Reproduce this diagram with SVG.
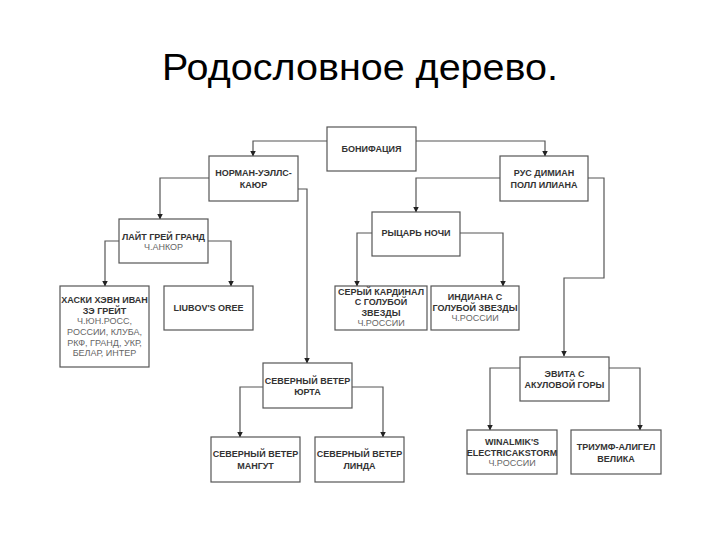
<svg xmlns="http://www.w3.org/2000/svg" width="720" height="540" viewBox="0 0 720 540">
<defs>
<marker id="arr" markerWidth="6" markerHeight="6" refX="5.5" refY="3" orient="auto" markerUnits="userSpaceOnUse">
<path d="M0,0 L6,3 L0,6 Z" fill="#222"/>
</marker>
<style>
.box{fill:#fff;stroke:#555;stroke-width:1.2}
.t{font-family:"Liberation Sans",Arial,sans-serif;font-size:9px;font-weight:bold;fill:#333;text-anchor:middle}
.s{font-family:"Liberation Sans",Arial,sans-serif;font-size:9px;fill:#666;text-anchor:middle}
.c{fill:none;stroke:#555;stroke-width:1.2;marker-end:url(#arr)}
.title{font-family:"Liberation Sans",Arial,sans-serif;font-size:36px;fill:#000;text-anchor:middle}
</style>
</defs>
<rect width="720" height="540" fill="#fff"/>
<text class="title" x="360" y="80" textLength="396" lengthAdjust="spacingAndGlyphs">Родословное дерево.</text>
<g id="connectors">
<path class="c" d="M327,141 H253 V156"/>
<path class="c" d="M416,141 H545 V156"/>
<path class="c" d="M209,178 H160 V219"/>
<path class="c" d="M298,189 H307 V363"/>
<path class="c" d="M119,241 H105 V286"/>
<path class="c" d="M208,241 H231 V286"/>
<path class="c" d="M500,178 H416 V212"/>
<path class="c" d="M588,178 H604 V278 H564 V356"/>
<path class="c" d="M372,233 H357 V286"/>
<path class="c" d="M460,233 H503 V286"/>
<path class="c" d="M263,387 H240 V437"/>
<path class="c" d="M352,387 H383 V437"/>
<path class="c" d="M520,368 H490 V430"/>
<path class="c" d="M609,368 H640 V430"/>
</g>
<g id="n-bonifacia"><rect class="box" x="327" y="127" width="89" height="44"/><text class="t" x="371.5" y="152">БОНИФАЦИЯ</text></g>
<g id="n-norman"><rect class="box" x="209" y="156" width="89" height="45"/><text class="t" x="253.5" y="176">НОРМАН-УЭЛЛС-</text><text class="t" x="253.5" y="188">КАЮР</text></g>
<g id="n-rus"><rect class="box" x="500" y="156" width="88" height="45"/><text class="t" x="544" y="176">РУС ДИМИАН</text><text class="t" x="544" y="188">ПОЛЛ ИЛИАНА</text></g>
<g id="n-light"><rect class="box" x="119" y="219" width="89" height="44"/><text class="t" x="163.5" y="240">ЛАЙТ ГРЕЙ ГРАНД</text><text class="s" x="163.5" y="250">Ч.АНКОР</text></g>
<g id="n-husky"><rect class="box" x="60" y="286" width="89" height="81"/><text class="t" x="104.5" y="303">ХАСКИ ХЭВН ИВАН</text><text class="t" x="104.5" y="314">ЗЭ ГРЕЙТ</text><text class="s" x="104.5" y="324">Ч.ЮН.РОСС,</text><text class="s" x="104.5" y="335">РОССИИ, КЛУБА,</text><text class="s" x="104.5" y="346">РКФ, ГРАНД, УКР,</text><text class="s" x="104.5" y="356">БЕЛАР, ИНТЕР</text></g>
<g id="n-liubov"><rect class="box" x="164" y="286" width="89" height="44"/><text class="t" x="208.5" y="311">LIUBOV'S OREE</text></g>
<g id="n-knight"><rect class="box" x="372" y="212" width="88" height="44"/><text class="t" x="416" y="236">РЫЦАРЬ НОЧИ</text></g>
<g id="n-grey"><rect class="box" x="335" y="286" width="92" height="44"/><text class="t" x="381" y="295">СЕРЫЙ КАРДИНАЛ</text><text class="t" x="381" y="305">С ГОЛУБОЙ</text><text class="t" x="381" y="316">ЗВЕЗДЫ</text><text class="s" x="381" y="326">Ч.РОССИИ</text></g>
<g id="n-indiana"><rect class="box" x="431" y="286" width="88" height="44"/><text class="t" x="475" y="300">ИНДИАНА С</text><text class="t" x="475" y="311">ГОЛУБОЙ ЗВЕЗДЫ</text><text class="s" x="475" y="321">Ч.РОССИИ</text></g>
<g id="n-yurta"><rect class="box" x="263" y="363" width="89" height="45"/><text class="t" x="307.5" y="384">СЕВЕРНЫЙ ВЕТЕР</text><text class="t" x="307.5" y="395">ЮРТА</text></g>
<g id="n-mangut"><rect class="box" x="211" y="437" width="89" height="45"/><text class="t" x="255.5" y="457">СЕВЕРНЫЙ ВЕТЕР</text><text class="t" x="255.5" y="469">МАНГУТ</text></g>
<g id="n-linda"><rect class="box" x="315" y="437" width="89" height="45"/><text class="t" x="359.5" y="457">СЕВЕРНЫЙ ВЕТЕР</text><text class="t" x="359.5" y="469">ЛИНДА</text></g>
<g id="n-evita"><rect class="box" x="520" y="357" width="89" height="44"/><text class="t" x="564.5" y="377">ЭВИТА С</text><text class="t" x="564.5" y="388">АКУЛОВОЙ ГОРЫ</text></g>
<g id="n-winalmik"><rect class="box" x="467" y="430" width="90" height="44"/><text class="t" x="512" y="445">WINALMIK'S</text><text class="t" x="512" y="456">ELECTRICAKSTORM</text><text class="s" x="512" y="466">Ч.РОССИИ</text></g>
<g id="n-triumph"><rect class="box" x="571" y="430" width="90" height="44"/><text class="t" x="616" y="450">ТРИУМФ-АЛИГЕЛ</text><text class="t" x="616" y="462">ВЕЛИКА</text></g>
</svg>
